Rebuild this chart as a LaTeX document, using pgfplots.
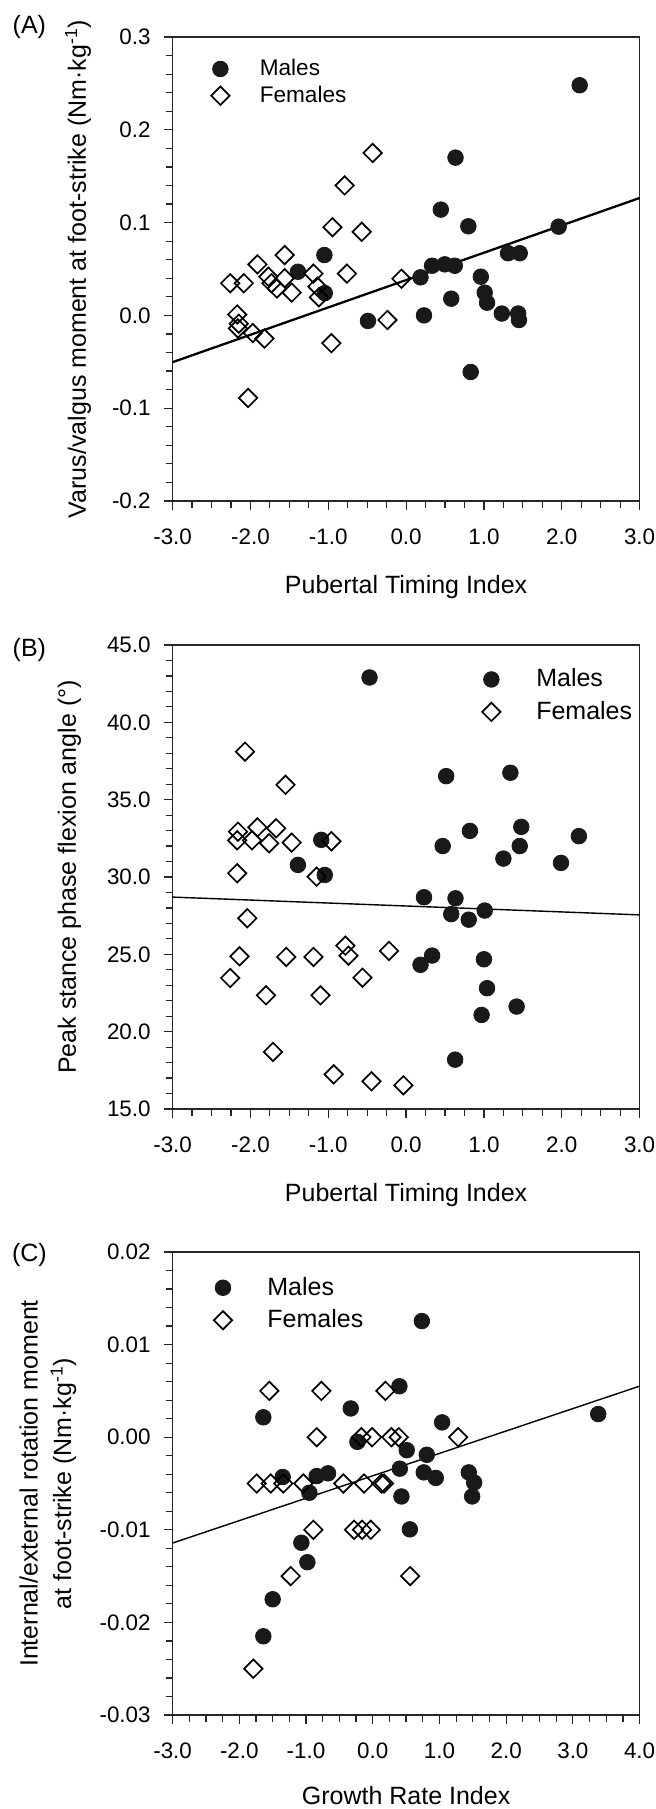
\documentclass[border=0pt]{standalone}
\usepackage{fontspec}
\setmainfont{Liberation Sans}
\usepackage{pgfplots}
\pgfplotsset{compat=1.18}

% scatter data
\pgfplotstableread{
x y
2.23 0.248
0.635 0.170
0.446 0.114
0.80 0.096
1.96 0.0956
1.31 0.067
1.46 0.067
-1.05 0.065
0.334 0.0535
0.497 0.055
0.626 0.0535
-1.39 0.047
0.185 0.041
0.96 0.0417
1.01 0.0245
1.04 0.0137
0.58 0.018
-1.045 0.024
0.23 0.0
1.23 0.002
1.44 0.002
1.45 -0.005
-0.49 -0.006
0.83 -0.061
}\maleA
\pgfplotstableread{
x y
-0.43 0.175
-0.79 0.14
-0.946 0.095
-0.57 0.09
-1.56 0.065
-1.91 0.055
-1.19 0.045
-0.76 0.045
-2.26 0.0346
-2.085 0.0346
-1.77 0.0417
-1.73 0.0346
-1.56 0.04
-1.66 0.029
-1.47 0.0245
-1.14 0.031
-1.12 0.0195
-0.06 0.0395
-0.24 -0.005
-2.17 0.001
-2.15 -0.009
-2.16 -0.014
-1.97 -0.019
-1.82 -0.025
-0.96 -0.03
-2.03 -0.089
}\femaleA
\pgfplotstableread{
x y
-0.47 42.9
0.515 36.52
1.34 36.74
0.82 32.98
1.48 33.24
2.22 32.64
0.47 32.0
1.46 32.0
1.25 31.19
1.99 30.91
-1.09 32.4
-1.39 30.78
-1.045 30.13
0.23 28.69
0.635 28.62
0.58 27.6
0.805 27.24
1.01 27.83
0.334 24.92
0.185 24.32
1.0 24.68
1.04 22.81
0.97 21.08
1.42 21.62
0.63 18.19
}\maleB
\pgfplotstableread{
x y
-2.07 38.1
-1.55 35.96
-2.16 32.93
-1.91 33.21
-1.67 33.15
-2.17 32.37
-1.98 32.37
-1.76 32.18
-1.47 32.22
-0.96 32.31
-2.17 30.24
-1.15 30.02
-2.04 27.33
-2.14 24.87
-2.26 23.47
-1.54 24.83
-1.19 24.83
-0.78 25.56
-0.74 24.91
-0.22 25.22
-0.56 23.49
-1.8 22.35
-1.1 22.35
-1.71 18.69
-0.93 17.24
-0.445 16.79
-0.035 16.53
}\femaleB
\pgfplotstableread{
x y
0.736 0.01254
0.40 0.0055
-0.33 0.0031
-1.64 0.00215
1.04 0.0016
3.38 0.0025
-0.23 -0.0005
0.51 -0.0014
0.81 -0.0019
0.406 -0.0034
0.765 -0.0038
0.945 -0.0044
1.44 -0.0038
1.52 -0.0049
1.49 -0.0064
-1.35 -0.0043
-0.84 -0.0042
-0.67 -0.0039
-0.95 -0.006
0.43 -0.0064
0.556 -0.00995
-1.07 -0.0114
-0.98 -0.0135
-1.5 -0.0175
-1.64 -0.0215
}\maleC
\pgfplotstableread{
x y
-1.55 0.005
-0.77 0.005
0.19 0.005
-0.84 0.0
-0.17 0.0
-0.01 0.0
0.28 0.0
0.39 0.0
1.28 0.0
-1.74 -0.005
-1.53 -0.005
-1.34 -0.005
-1.04 -0.005
-0.44 -0.005
-0.13 -0.005
0.13 -0.005
0.17 -0.005
-0.89 -0.01
-0.28 -0.01
-0.16 -0.01
-0.03 -0.01
-1.23 -0.015
0.56 -0.015
-1.79 -0.025
}\femaleC

\pgfplotsset{
    panel/.style={
        scale only axis,
        width=233.5pt, height=232pt,
        anchor=south west,
        axis line style={line width=0.6pt, black!85},
        tick align=outside,
        xtick pos=bottom, ytick pos=left,
        major tick length=4.5pt, minor tick length=3.5pt,
        every tick/.style={black!85, line width=0.6pt},
        minor x tick num=3, minor y tick num=4,
        scaled ticks=false,
        ticklabel style={font=\fontsize{11.2}{13}\selectfont, inner sep=0pt},
        xticklabel style={anchor=north, yshift=-9pt},
        yticklabel style={anchor=east, xshift=-6.3pt},
        label style={font=\fontsize{12.5}{16.75}\selectfont},
        xlabel style={at={(axis description cs:0.5,-0.2004)}, anchor=base},
        legend cell align=left,
        legend style={draw=none, fill=none, inner sep=0pt, outer sep=0pt,
            nodes={inner sep=0pt}, column sep=0pt},
    },
    males/.style={only marks, mark=*, mark size=3.9pt,
        mark options={fill=black!90, draw=black!90, line width=0.4pt}},
    females/.style={only marks, mark=square, mark size=3.25pt,
        mark options={fill=white, draw=black, line width=0.85pt, rotate=45}},
    fit/.style={black, no marks, forget plot},
}

\begin{document}
\begin{tikzpicture}
\useasboundingbox (0pt,0pt) rectangle (328pt,904.5pt);

% (A)
\begin{axis}[panel,
    at={(86.3pt,654pt)},
    xmin=-3, xmax=3, ymin=-0.2, ymax=0.3,
    xtick={-3,-2,-1,0,1,2,3},
    xticklabels={-3.0,-2.0,-1.0,0.0,1.0,2.0,3.0},
    ytick={-0.2,-0.1,0,0.1,0.2,0.3},
    yticklabels={-0.2,-0.1,0.0,0.1,0.2,0.3},
    xlabel={Pubertal Timing Index},
    ylabel={Varus/valgus moment at foot-strike (Nm·kg\textsuperscript{-1})},
    ylabel style={at={(axis description cs:-0.2026,0.5)}, anchor=center},
    legend style={at={(axis description cs:0.0822,0.952)}, anchor=north west,
        row sep=3.7pt, font=\fontsize{11.3}{13}\selectfont},
    legend image code/.code={\draw[#1] plot coordinates {(0pt,0pt)}; \path (-4.5pt,0pt) (19.5pt,0pt);},
]
\addplot[fit, line width=1.15pt] coordinates {(-3,-0.0504) (3,0.1265)};
\addplot[males] table {\maleA};
\addlegendentry{Males}
\addplot[females] table {\femaleA};
\addlegendentry{Females}
\end{axis}

% (B)
\begin{axis}[panel,
    at={(86.3pt,350pt)},
    xmin=-3, xmax=3, ymin=15, ymax=45,
    xtick={-3,-2,-1,0,1,2,3},
    xticklabels={-3.0,-2.0,-1.0,0.0,1.0,2.0,3.0},
    ytick={15,20,25,30,35,40,45},
    yticklabels={15.0,20.0,25.0,30.0,35.0,40.0,45.0},
    xlabel={Pubertal Timing Index},
    ylabel={Peak stance phase flexion angle (°)},
    ylabel style={at={(axis description cs:-0.2212,0.5)}, anchor=center},
    legend style={at={(axis description cs:0.6625,0.9485)}, anchor=north west,
        row sep=5.7pt, font=\fontsize{12.5}{14}\selectfont},
    legend image code/.code={\draw[#1] plot coordinates {(0pt,0pt)}; \path (-4.5pt,0pt) (22.25pt,0pt);},
]
\addplot[fit, line width=0.7pt] coordinates {(-3,28.7) (3,27.55)};
\addplot[males] table {\maleB};
\addlegendentry{Males}
\addplot[females] table {\femaleB};
\addlegendentry{Females}
\end{axis}

% (C)
\begin{axis}[panel,
    at={(86.3pt,47pt)}, height=231.5pt,
    xmin=-3, xmax=4, ymin=-0.03, ymax=0.02,
    xtick={-3,-2,-1,0,1,2,3,4},
    xticklabels={-3.0,-2.0,-1.0,0.0,1.0,2.0,3.0,4.0},
    ytick={-0.03,-0.02,-0.01,0,0.01,0.02},
    yticklabels={-0.03,-0.02,-0.01,0.00,0.01,0.02},
    xlabel={Growth Rate Index},
    xlabel style={at={(axis description cs:0.5,-0.193)}, anchor=base},
    ylabel={Internal/external rotation moment\\at foot-strike (Nm·kg\textsuperscript{-1})},
    ylabel style={at={(axis description cs:-0.2668,0.5)}, anchor=center, align=center},
    legend style={at={(axis description cs:0.0878,0.9456)}, anchor=north west,
        row sep=5.7pt, font=\fontsize{12.5}{14}\selectfont},
    legend image code/.code={\draw[#1] plot coordinates {(0pt,0pt)}; \path (-4.5pt,0pt) (22pt,0pt);},
]
\addplot[fit, line width=0.7pt] coordinates {(-3,-0.01143) (4,0.00551)};
\addplot[males] table {\maleC};
\addlegendentry{Males}
\addplot[females] table {\femaleC};
\addlegendentry{Females}
\end{axis}

\node[font=\fontsize{12.5}{14}\selectfont] at (14.7pt,890.75pt) {(A)};
\node[font=\fontsize{12.5}{14}\selectfont] at (14.7pt,579.5pt) {(B)};
\node[font=\fontsize{12.5}{14}\selectfont] at (14.7pt,276.75pt) {(C)};
\end{tikzpicture}
\end{document}
